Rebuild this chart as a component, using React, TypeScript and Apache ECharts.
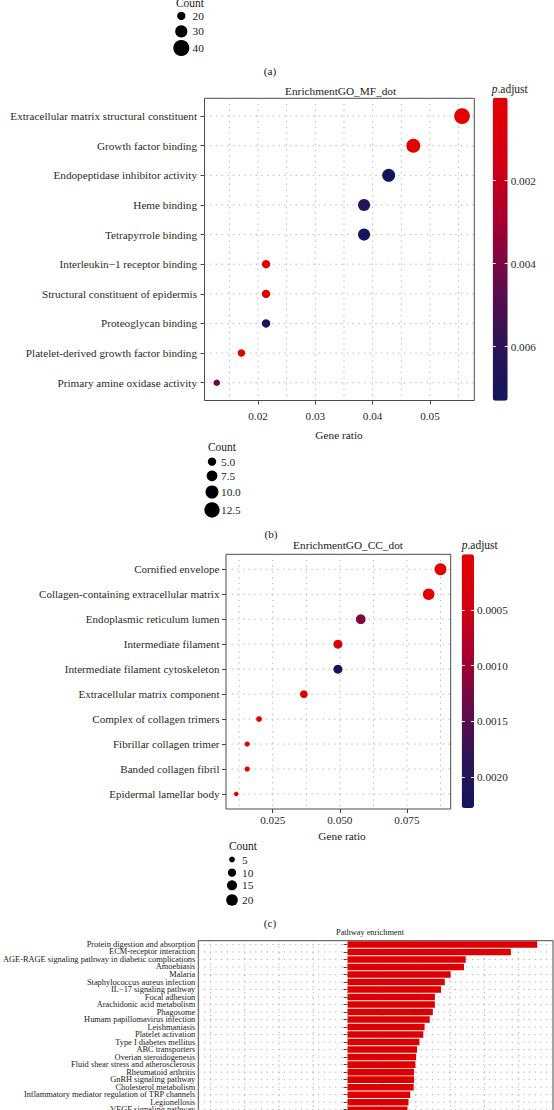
import React, { useEffect, useRef } from 'react';
import * as echarts from 'echarts';

const FONT = '"Liberation Serif", "DejaVu Serif", "Times New Roman", serif';

// ---------- Panel (a) (only its size legend is visible) ----------
const aCountLegend = [20, 30, 40];

// ---------- Panel (b): EnrichmentGO_MF_dot ----------
const mfTerms = [
  'Extracellular matrix structural constituent',
  'Growth factor binding',
  'Endopeptidase inhibitor activity',
  'Heme binding',
  'Tetrapyrrole binding',
  'Interleukin\u22121 receptor binding',
  'Structural constituent of epidermis',
  'Proteoglycan binding',
  'Platelet-derived growth factor binding',
  'Primary amine oxidase activity',
];
const mfGeneRatio = [0.0556, 0.0471, 0.0428, 0.0385, 0.0385, 0.0214, 0.0214, 0.0214, 0.0171, 0.0128];
const mfCount = [13, 11, 10, 9, 9, 5, 5, 5, 4, 3];
const mfPAdjust = [0.00002, 0.00006, 0.0073, 0.0063, 0.0072, 0.0002, 0.0002, 0.0071, 0.0003, 0.0042];
const mfXTicks = [0.02, 0.03, 0.04, 0.05];
const mfXGrid = [0.015, 0.02, 0.025, 0.03, 0.035, 0.04, 0.045, 0.05, 0.055];
const mfColorTicks = [0.002, 0.004, 0.006];
const mfCountLegend = [5.0, 7.5, 10.0, 12.5];

// ---------- Panel (c): EnrichmentGO_CC_dot ----------
const ccTerms = [
  'Cornified envelope',
  'Collagen-containing extracellular matrix',
  'Endoplasmic reticulum lumen',
  'Intermediate filament',
  'Intermediate filament cytoskeleton',
  'Extracellular matrix component',
  'Complex of collagen trimers',
  'Fibrillar collagen trimer',
  'Banded collagen fibril',
  'Epidermal lamellar body',
];
const ccGeneRatio = [0.0875, 0.0831, 0.0578, 0.0493, 0.0493, 0.0366, 0.0199, 0.0155, 0.0155, 0.0114];
const ccCount = [21, 20, 14, 12, 12, 9, 5, 4, 4, 3];
const ccPAdjust = [0.00001, 0.00008, 0.0012, 0.0003, 0.00228, 0.00005, 0.00003, 0.00006, 0.00006, 0.00004];
const ccXTicks = [0.025, 0.05, 0.075];
const ccXGrid = [0.0125, 0.025, 0.0375, 0.05, 0.0625, 0.075, 0.0875];
const ccColorTicks = [0.0005, 0.001, 0.0015, 0.002];
const ccCountLegend = [5, 10, 15, 20];

// ---------- Panel (d): Pathway enrichment ----------
const pathways = [
  'Protein digestion and absorption',
  'ECM-receptor interaction',
  'AGE-RAGE signaling pathway in diabetic complications',
  'Amoebiasis',
  'Malaria',
  'Staphylococcus aureus infection',
  'IL\u221217 signaling pathway',
  'Focal adhesion',
  'Arachidonic acid metabolism',
  'Phagosome',
  'Humam papillomavirus infection',
  'Leishmaniasis',
  'Platelet activation',
  'Type I diabetes mellitus',
  'ABC transporters',
  'Overian steroidogenesis',
  'Fluid shear stress and atherosclerosis',
  'Rheumatoid arthritis',
  'GnRH signaling pathway',
  'Cholesterol metabolism',
  'Inflammatory mediator regulation of TRP channels',
  'Legionellosis',
  'VEGF signaling pathway',
];
const pathwayScore = [5.54, 4.77, 3.45, 3.4, 3.01, 2.84, 2.73, 2.55, 2.55, 2.49, 2.4, 2.25, 2.21, 2.1, 2.03, 2.0, 1.98, 1.94, 1.94, 1.93, 1.83, 1.78, 1.75];
const pathwayGrid = [-4, -3, -2, -1, 0, 1, 2, 3, 4, 5];

const pAdjustPalette = ['#e50000', '#d40012', '#a8002f', '#680b49', '#2f1355', '#12165e'];
const TEXT = '#1a1a1a';
const AXIS_TEXT = '#2a2a2a';

const LBL = 11.2; // term labels
const TICK = 11.2; // numeric tick labels
const TTL = 11.3; // titles

const sizeA = (c: number) => 0.39 * c + 0.5;
const sizeB = (c: number) => 3.8 + 0.92 * c;
const sizeC = (c: number) => 2.6 * Math.sqrt(c);

const expand = (vals: number[], f = 0.05) => {
  const mn = Math.min(...vals);
  const mx = Math.max(...vals);
  const d = (mx - mn) * f;
  return [mn - d, mx + d];
};

const dotted = { stroke: '#a5a5a5', lineWidth: 0.9, lineDash: [1.2, 4.5] };

function vLines(xi: number, yi: number, values: number[], yRef: number) {
  return {
    type: 'custom', xAxisIndex: xi, yAxisIndex: yi, z: 1, silent: true,
    data: values.map((v) => [v, yRef]),
    renderItem: (params: any, api: any) => {
      const cs = params.coordSys;
      const p = api.coord([api.value(0), api.value(1)]);
      return { type: 'line', shape: { x1: p[0], y1: cs.y, x2: p[0], y2: cs.y + cs.height }, style: dotted };
    },
  };
}
function hLines(xi: number, yi: number, rows: number[], xRef: number) {
  return {
    type: 'custom', xAxisIndex: xi, yAxisIndex: yi, z: 1, silent: true,
    data: rows.map((r) => [xRef, r]),
    renderItem: (params: any, api: any) => {
      const cs = params.coordSys;
      const p = api.coord([api.value(0), api.value(1)]);
      return { type: 'line', shape: { x1: cs.x, y1: p[1], x2: cs.x + cs.width, y2: p[1] }, style: dotted };
    },
  };
}

const txt = (text: string, x: number, y: number, size: number, align = 'center', extra: any = {}) => ({
  type: 'text', x, y, silent: true,
  style: {
    text, fontSize: size, fontFamily: FONT, fill: TEXT,
    align, verticalAlign: 'middle', textAlign: align, textVerticalAlign: 'middle', ...extra,
  },
});
const pAdjTitle = (x: number, y: number) => ({
  type: 'text', x, y, silent: true,
  style: {
    text: '{i|p}.adjust', fontSize: 11.5, fontFamily: FONT, fill: TEXT,
    align: 'left', verticalAlign: 'middle', textAlign: 'left', textVerticalAlign: 'middle',
    rich: {
      i: { fontStyle: 'italic', fontSize: 11.5, fontFamily: FONT, fill: TEXT },
    },
  },
});
const sizeLegend = (title: string, titleX: number, titleY: number, cx: number, cys: number[], vals: number[], fn: (c: number) => number, labelX: number, fmt: (v: number) => string) => {
  const els: any[] = [txt(title, titleX, titleY, 11.5)];
  vals.forEach((v, i) => {
    els.push({ type: 'circle', silent: true, shape: { cx, cy: cys[i], r: fn(v) / 2 }, style: { fill: '#000' } });
    els.push(txt(fmt(v), labelX, cys[i], 11.3, 'left'));
  });
  return els;
};

function buildOption() {
  const mfX = expand(mfGeneRatio);
  const ccX = expand(ccGeneRatio);
  const rows = mfTerms.map((_, i) => i + 1);
  const ccRows = ccTerms.map((_, i) => i + 1);
  const mfMax = Math.max(...mfPAdjust);
  const ccMax = Math.max(...ccPAdjust);

  const gridBase = { show: true, borderColor: '#4a4a4a', borderWidth: 1, backgroundColor: 'transparent', containLabel: false, outerBoundsMode: 'none' };
  const cbGrid = { show: false, containLabel: false, outerBoundsMode: 'none' };

  const termAxis = (terms: string[], gridIndex: number, margin: number, size: number) => ({
    type: 'value', gridIndex, min: 0.4, max: terms.length + 0.6, inverse: true,
    axisLine: { show: false }, splitLine: { show: false },
    axisTick: { show: true, length: 4, customValues: terms.map((_, i) => i + 1), lineStyle: { color: '#444', width: 1 } },
    axisLabel: {
      customValues: terms.map((_, i) => i + 1), formatter: (v: number) => terms[Math.round(v) - 1] || '',
      fontFamily: FONT, fontSize: size, color: AXIS_TEXT, margin,
    },
  });
  const ratioAxis = (gridIndex: number, range: number[], ticks: number[], digits: number, margin: number) => ({
    type: 'value', gridIndex, min: range[0], max: range[1],
    axisLine: { show: false }, splitLine: { show: false },
    axisTick: { show: true, length: 4, customValues: ticks, lineStyle: { color: '#444', width: 1 } },
    axisLabel: { customValues: ticks, formatter: (v: number) => v.toFixed(digits), fontFamily: FONT, fontSize: TICK, color: AXIS_TEXT, margin },
  });
  const cbAxis = (gridIndex: number, max: number, ticks: number[], position: string, label: boolean, digits: number) => ({
    type: 'value', gridIndex, min: 0, max, inverse: true, position, z: 10,
    axisLine: { show: false }, splitLine: { show: false },
    axisTick: { show: true, inside: true, length: 3, customValues: ticks, lineStyle: { color: '#fff', width: 1 } },
    axisLabel: { show: label, customValues: ticks, formatter: (v: number) => v.toFixed(digits), fontFamily: FONT, fontSize: TICK, color: AXIS_TEXT, margin: 3 },
  });

  const graphic: any[] = [
    ...sizeLegend('Count', 190, 3, 181.3, [15.9, 31.4, 48], aCountLegend, sizeA, 192.6, (v) => String(v)),
    txt('(a)', 270, 71, 11.3),
    txt('EnrichmentGO_MF_dot', 340.6, 90.5, TTL),
    pAdjTitle(491.7, 89),
    txt('Gene ratio', 339, 435, TTL),
    ...sizeLegend('Count', 222, 447, 212, [461.6, 475.8, 492, 510], mfCountLegend, sizeB, 221, (v) => v.toFixed(1)),
    txt('(b)', 271, 534, 11.3),
    txt('EnrichmentGO_CC_dot', 348, 545, TTL),
    pAdjTitle(461.7, 545),
    txt('Gene ratio', 342, 835.5, TTL),
    ...sizeLegend('Count', 243, 846, 232, [859.5, 872.6, 885.3, 900], ccCountLegend, sizeC, 242, (v) => String(v)),
    txt('(c)', 270, 923, 11.3),
    txt('Pathway enrichment', 370, 932, 8.3),
  ];

  return {
    animation: false,
    backgroundColor: '#fff',
    textStyle: { fontFamily: FONT },
    grid: [
      { ...gridBase, left: 204.5, top: 98.3, width: 269.8, height: 302.2 },
      { ...cbGrid, left: 492.7, top: 97.7, width: 15, height: 303 },
      { ...gridBase, left: 226, top: 554.3, width: 224.7, height: 254.7 },
      { ...cbGrid, left: 461.7, top: 554.3, width: 12.3, height: 253.7 },
      { ...gridBase, left: 198.3, top: 940.7, width: 354.7, height: pathways.length * 7.51 },
    ],
    xAxis: [
      ratioAxis(0, mfX, mfXTicks, 2, 9.5),
      { type: 'value', gridIndex: 1, show: false, min: 0, max: 1 },
      ratioAxis(2, ccX, ccXTicks, 3, 5.5),
      { type: 'value', gridIndex: 3, show: false, min: 0, max: 1 },
      { type: 'value', gridIndex: 4, min: -4.36, max: 6.0, show: false },
    ],
    yAxis: [
      termAxis(mfTerms, 0, 7.5, LBL),
      cbAxis(1, mfMax, mfColorTicks, 'left', false, 3),
      cbAxis(1, mfMax, mfColorTicks, 'right', true, 3),
      termAxis(ccTerms, 2, 6.5, 11.1),
      cbAxis(3, ccMax, ccColorTicks, 'left', false, 4),
      cbAxis(3, ccMax, ccColorTicks, 'right', true, 4),
      {
        type: 'category', gridIndex: 4, data: pathways, inverse: true,
        axisLine: { show: false }, splitLine: { show: false },
        axisTick: { show: true, alignWithLabel: true, length: 4, lineStyle: { color: '#444', width: 1 } },
        axisLabel: { fontFamily: FONT, fontSize: 8.4, color: '#1a1a1a', margin: 3, interval: 0 },
      },
    ],
    visualMap: [
      {
        type: 'continuous', seriesIndex: 2, dimension: 2, min: 0, max: mfMax, inverse: true,
        left: 492.7, top: 97.7, itemWidth: 15, itemHeight: 303, padding: 0, calculable: false,
        inRange: { color: pAdjustPalette }, hoverLink: false, z: 4,
      },
      {
        type: 'continuous', seriesIndex: 5, dimension: 2, min: 0, max: ccMax, inverse: true,
        left: 461.7, top: 554.3, itemWidth: 12.3, itemHeight: 253.7, padding: 0, calculable: false,
        inRange: { color: pAdjustPalette }, hoverLink: false, z: 4,
      },
    ],
    series: [
      vLines(0, 0, mfXGrid, 5),
      hLines(0, 0, rows, 0.03),
      {
        type: 'scatter', xAxisIndex: 0, yAxisIndex: 0, z: 3,
        data: mfGeneRatio.map((g, i) => [g, i + 1, mfPAdjust[i], mfCount[i]]),
        symbolSize: (v: number[]) => sizeB(v[3]),
        itemStyle: { opacity: 1 },
      },
      vLines(2, 3, ccXGrid, 5),
      hLines(2, 3, ccRows, 0.05),
      {
        type: 'scatter', xAxisIndex: 2, yAxisIndex: 3, z: 3,
        data: ccGeneRatio.map((g, i) => [g, i + 1, ccPAdjust[i], ccCount[i]]),
        symbolSize: (v: number[]) => sizeC(v[3]),
        itemStyle: { opacity: 1 },
      },
      vLines(4, 6, pathwayGrid, 0),
      hLines(4, 6, pathways.map((_, i) => i), 0),
      {
        type: 'bar', xAxisIndex: 4, yAxisIndex: 6, z: 3,
        data: pathwayScore, barCategoryGap: '13%',
        itemStyle: { color: '#dd0000' },
      },
    ],
    graphic,
  };
}

export default function App() {
  const ref = useRef<HTMLDivElement>(null);
  useEffect(() => {
    if (!ref.current) return;
    const chart = echarts.init(ref.current, undefined, { renderer: 'svg' });
    chart.setOption(buildOption() as any);
    return () => chart.dispose();
  }, []);
  return (
    <div
      ref={ref}
      style={{ position: 'absolute', left: 0, top: 0, width: 554, height: 1110, background: '#fff' }}
    />
  );
}
